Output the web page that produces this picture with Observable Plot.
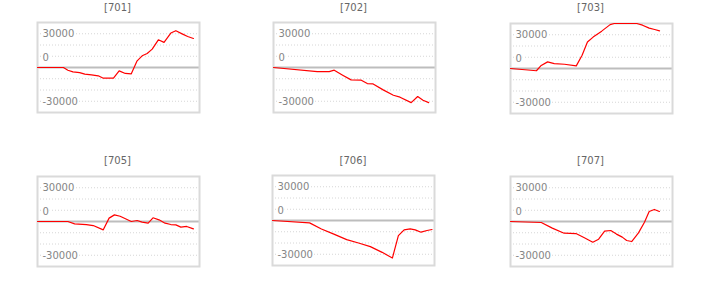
<!DOCTYPE html>
<html><head><meta charset="utf-8">
<script src="https://cdn.jsdelivr.net/npm/d3@7"></script>
<script src="https://cdn.jsdelivr.net/npm/@observablehq/plot@0.6"></script>
<style>
body{margin:0;background:#fff;}
#root{position:relative;width:709px;height:306px;overflow:hidden;font-family:"DejaVu Sans",sans-serif;background:#fff;}
.title{position:absolute;width:120px;text-align:center;font-size:10px;color:#666;line-height:12px;}
.panel{position:absolute;}
</style></head><body><div id="root"></div>
<script>
// ---- data ----
const panelNames = ["701", "702", "703", "705", "706", "707"];

const x701 = [0,16,18.75,21.9,26,29.2,33.3,37.5,40.6,46.9,50.4,54.2,57.9,61.5,64.6,67.7,70.8,74.6,78.1,82.3,85.4,89.6,92.7,96.25];
const v701 = [0,0,-2400,-3900,-4500,-5900,-6500,-7400,-9500,-9500,-3000,-5300,-5600,5900,10400,12500,16300,24600,22300,30600,32700,29700,27600,25800];

const x702 = [0,27,34.4,37.5,42.7,47.9,54.2,57.9,61.5,67.7,74,78.1,85,89,92.3,95.8];
const v702 = [0,-3600,-3600,-2400,-6800,-11000,-11300,-14300,-14600,-19900,-24700,-26400,-31200,-25800,-29100,-31200];

const x703 = [0,16,18.7,22.9,27,33.3,40.6,44.2,47.5,51,56.3,61.5,64,70,75,78,81.5,85.6,89,92];
const v703 = [0,-2000,2350,5900,4400,3800,2350,11800,23500,27900,33200,39000,42000,46000,45000,42000,38500,35900,34700,33500];

const x705 = [0,18.75,22.9,30.2,34.4,40.6,44.2,47.5,51,57.9,61.5,64.6,68.3,71.3,75,78.75,82.3,85.4,88.5,92.1,96.25];
const v705 = [0,0,-2100,-2700,-3600,-7400,3000,5900,4700,0,900,-600,-1500,3300,1500,-1500,-2700,-3000,-5000,-4400,-6500];

const x706 = [0,22.9,30.2,37.5,45.8,53.1,60.4,67.7,74,77.7,81.25,85,88.1,91.7,95.4,98.5];
const v706 = [0,-2100,-7500,-11900,-17000,-20000,-23200,-28300,-33400,-13400,-8300,-7500,-8300,-10400,-8900,-8000];

const x707 = [0,19,25.8,33.1,40.4,45.6,50.8,54.4,58.1,61.9,65.4,69,71.7,74.8,79,82.7,85.6,88.8,91.9];
const v707 = [0,-900,-5900,-10400,-10700,-14500,-18400,-15700,-8600,-8000,-11200,-13900,-16900,-17800,-10100,-600,8900,10700,8900];

const yTickValues = [30000, 0, -30000];
const yTickLabels = ["30000", "0", "-30000"];
const gridValues = [-30000, -20000, -10000, 10000, 20000, 30000];

// ---- layout ----
const xs = [x701, x702, x703, x705, x706, x707];
const vs = [v701, v702, v703, v705, v706, v707];
const frameLeft = [36.5, 272.5, 509.5, 36.5, 272, 509.5];
const frameTop  = [22, 22, 22.5, 175.5, 174.5, 176];
const titleTop  = [1.5, 1.5, 1.5, 154.5, 154.5, 154.5];
const PW = 162, PH = 90, ML = 4, MT = 5;
const labelDy = {"30000": 0, "0": -10, "-30000": 1};

const root = document.getElementById("root");
panelNames.forEach((name, i) => {
  const data = xs[i].map((x, k) => ({x, v: vs[i][k]}));
  const labels = yTickValues.map((v, k) => ({v, t: yTickLabels[k]}));
  const labelMarks = labels.map(d => Plot.text([d], {y: "v", text: "t", frameAnchor: "left", textAnchor: "start", dx: 5, dy: labelDy[d.t], fill: "#858585", stroke: "white", strokeWidth: 3, fontSize: 10}));
  const chart = Plot.plot({
    width: PW + 2 * ML, height: PH + 2 * MT,
    marginLeft: ML, marginRight: ML, marginTop: MT, marginBottom: MT,
    style: {fontFamily: "DejaVu Sans, sans-serif", fontSize: "10px", background: "transparent", overflow: "visible"},
    x: {domain: [0, 100], axis: null},
    y: {domain: [-40000, 40000], axis: null, clamp: true},
    marks: [
      Plot.ruleY(gridValues, {stroke: "#d6d6d6", strokeDasharray: "1,2"}),
      ...labelMarks,
      Plot.ruleY([0], {stroke: "#bdbdbd", strokeWidth: 2}),
      Plot.frame({stroke: "#dadada", strokeWidth: 2}),
      Plot.line(data, {x: "x", y: "v", stroke: "#ff0000", strokeWidth: 1.2})
    ]
  });
  const div = document.createElement("div");
  div.className = "panel";
  div.style.left = (frameLeft[i] - ML) + "px";
  div.style.top = (frameTop[i] - MT) + "px";
  div.appendChild(chart);
  root.appendChild(div);
  const t = document.createElement("div");
  t.className = "title";
  t.textContent = "[" + name + "]";
  t.style.left = (frameLeft[i] + PW / 2 - 60) + "px";
  t.style.top = titleTop[i] + "px";
  root.appendChild(t);
});
</script></body></html>
